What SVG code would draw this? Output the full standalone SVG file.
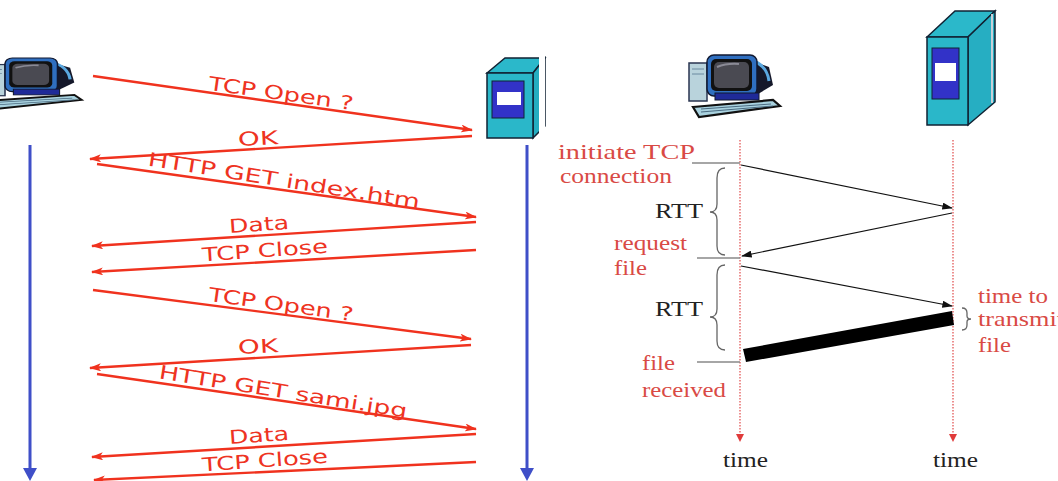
<svg xmlns="http://www.w3.org/2000/svg" width="1058" height="481" viewBox="0 0 1058 481">
  <style>
    .msg { fill: none; stroke: #f0321e; stroke-width: 2.4; marker-end: url(#redHead); }
    .lbl { font-family: "Comic Sans MS", "DejaVu Sans", sans-serif; font-size: 19px; fill: #ee3322; text-anchor: middle; }
    .life { stroke: #3f4fc8; stroke-width: 3; fill: none; }
    .note { font-family: "Liberation Serif", serif; font-size: 22px; fill: #d94a45; }
    .blk { font-family: "Liberation Serif", serif; font-size: 22px; fill: #222; }
    .tick { stroke: #888; stroke-width: 1.5; }
    .brace { fill: none; stroke: #666; stroke-width: 1.3; }
    .dot { stroke: #e04848; stroke-width: 1.2; stroke-dasharray: 1.5 1.5; }
    .thin { stroke: #111; stroke-width: 1.2; marker-end: url(#blackHead); }
  </style>
  <defs>
    <marker id="redHead" viewBox="0 0 12 8" refX="11" refY="4" markerWidth="12" markerHeight="8" markerUnits="userSpaceOnUse" orient="auto">
      <path d="M0,0 L12,4 L0,8 L3,4 Z" fill="#f0321e"/>
    </marker>
    <marker id="blackHead" viewBox="0 0 12 8" refX="11" refY="4" markerWidth="11" markerHeight="7" markerUnits="userSpaceOnUse" orient="auto">
      <path d="M0,0 L12,4 L0,8 Z" fill="#111"/>
    </marker>
    <!-- desktop computer: tower, CRT monitor and keyboard -->
    <symbol id="pc" overflow="visible">
      <rect x="2" y="8" width="18" height="38" fill="#b9d3dc" stroke="#2a3550" stroke-width="1.5"/>
      <line x1="5" y1="14" x2="17" y2="14" stroke="#6a8aa0"/>
      <line x1="5" y1="19" x2="17" y2="19" stroke="#6a8aa0"/>
      <path d="M58,3 L82,12 L86,30 L66,42 Z" fill="#15182a"/>
      <path d="M64,5 Q80,10 82,26" fill="none" stroke="#5aa8e0" stroke-width="3"/>
      <rect x="20" y="0" width="50" height="41" rx="7" fill="#2f6fc0" stroke="#101830" stroke-width="1.5"/>
      <rect x="24" y="4" width="41" height="32" rx="5" fill="#111"/>
      <rect x="27" y="7" width="35" height="26" rx="5" fill="#4a4a52"/>
      <path d="M30,12 Q40,8 52,9" fill="none" stroke="#8a8a95" stroke-width="2"/>
      <rect x="28" y="38" width="44" height="7" fill="#1f2a98" stroke="#101830"/>
      <polygon points="6,52 86,45 93,51 12,62" fill="#a9d2df" stroke="#111" stroke-width="2.2"/>
      <line x1="14" y1="54" x2="84" y2="49" stroke="#4a6a80"/>
      <line x1="14" y1="57" x2="86" y2="51" stroke="#4a6a80"/>
    </symbol>
  </defs>

  <rect width="1058" height="481" fill="#fff"/>

  <!-- left panel: hosts -->
  <g id="client-left">
    <use href="#pc" transform="translate(-16,58) scale(1.05,0.82)"/>
  </g>
  <g id="server-left">
    <polygon points="487,73 505,58 545,58 533,73" fill="#2bb8ca" stroke="#123" stroke-width="1.5"/>
    <polygon points="533,73 545,58 545,126 533,138" fill="#24adc0" stroke="#123" stroke-width="1.5"/>
    <rect x="487" y="73" width="46" height="65" fill="#2ab7c9" stroke="#123" stroke-width="1.5"/>
    <rect x="492" y="81" width="32" height="37" fill="#3232c8" stroke="#123"/>
    <rect x="497" y="92" width="24" height="13" fill="#fff"/>
  </g>
  <rect x="539" y="40" width="6" height="110" fill="#fff"/>

  <!-- right panel: hosts -->
  <g id="client-right">
    <use href="#pc" transform="translate(687,55)"/>
  </g>
  <g id="server-right">
    <polygon points="927,37 955,11 995,11 968,37" fill="#2bb8ca" stroke="#123" stroke-width="1.5"/>
    <polygon points="968,37 995,11 995,102 968,125" fill="#26aec2" stroke="#123" stroke-width="1.5"/>
    <line x1="992" y1="14" x2="992" y2="103" stroke="#c8d0d8" stroke-width="2"/>
    <rect x="927" y="37" width="41" height="88" fill="#2ab7c9" stroke="#123" stroke-width="1.5"/>
    <rect x="932" y="48" width="27" height="51" fill="#3232c8" stroke="#123"/>
    <rect x="935" y="63" width="21" height="18" fill="#fff"/>
  </g>

  <!-- connectors -->
  <g id="connectors">
    <!-- left timelines -->
    <line class="life" x1="30" y1="145" x2="30" y2="470"/>
    <polygon points="23,468 37,468 30,481" fill="#3f4fc8"/>
    <line class="life" x1="527" y1="145" x2="527" y2="470"/>
    <polygon points="520,468 534,468 527,481" fill="#3f4fc8"/>

    <!-- first exchange -->
    <line class="msg" x1="93" y1="76" x2="472" y2="130"/>
    <line class="msg" x1="472" y1="136" x2="90" y2="159"/>
    <line class="msg" x1="97" y1="164" x2="476" y2="217"/>
    <line class="msg" x1="476" y1="222" x2="92" y2="246"/>
    <line class="msg" x1="476" y1="250" x2="92" y2="272"/>
    <!-- second exchange -->
    <line class="msg" x1="93" y1="290" x2="471" y2="339"/>
    <line class="msg" x1="471" y1="345" x2="90" y2="368"/>
    <line class="msg" x1="97" y1="374" x2="476" y2="429"/>
    <line class="msg" x1="476" y1="434" x2="92" y2="457"/>
    <line class="msg" x1="476" y1="462" x2="94" y2="480"/>

    <!-- right timelines -->
    <line class="dot" x1="740" y1="140" x2="740" y2="436"/>
    <polygon points="736,434 744,434 740,442" fill="#e03a3a"/>
    <line class="dot" x1="953" y1="140" x2="953" y2="436"/>
    <polygon points="949,434 957,434 953,442" fill="#e03a3a"/>

    <!-- event ticks -->
    <line class="tick" x1="692" y1="163" x2="740" y2="163"/>
    <line class="tick" x1="697" y1="258" x2="740" y2="258"/>
    <line class="tick" x1="697" y1="362" x2="740" y2="362"/>

    <!-- packets -->
    <line class="thin" x1="741" y1="165" x2="952" y2="208"/>
    <line class="thin" x1="952" y1="213" x2="742" y2="256"/>
    <line class="thin" x1="741" y1="266" x2="952" y2="306"/>
    <polygon points="743,349 952,311 954,325 746,362" fill="#000"/>

    <!-- braces -->
    <path class="brace" d="M725,168 Q717,168 717,178 L717,204 Q717,212 710,212 Q717,212 717,220 L717,246 Q717,255 725,255"/>
    <path class="brace" d="M725,265 Q717,265 717,275 L717,309 Q717,317 710,317 Q717,317 717,325 L717,341 Q717,350 725,350"/>
    <path class="brace" d="M962,308 Q967,308 967,313 L967,316 Q967,319 971,319 Q967,319 967,322 L967,325 Q967,330 962,330"/>
  </g>

  <!-- message labels -->
  <g id="labels-left">
    <text class="lbl" transform="translate(281,94) rotate(8)" y="6" textLength="146" lengthAdjust="spacingAndGlyphs">TCP Open ?</text>
    <text class="lbl" transform="translate(258,139) rotate(-3)" y="6" textLength="40" lengthAdjust="spacingAndGlyphs">OK</text>
    <text class="lbl" transform="translate(284,181) rotate(9)" y="6" textLength="275" lengthAdjust="spacingAndGlyphs">HTTP GET index.htm</text>
    <text class="lbl" transform="translate(259,225) rotate(-4)" y="6" textLength="60" lengthAdjust="spacingAndGlyphs">Data</text>
    <text class="lbl" transform="translate(265,251) rotate(-4)" y="6" textLength="126" lengthAdjust="spacingAndGlyphs">TCP Close</text>
    <text class="lbl" transform="translate(281,305) rotate(8)" y="6" textLength="146" lengthAdjust="spacingAndGlyphs">TCP Open ?</text>
    <text class="lbl" transform="translate(258,347) rotate(-3)" y="6" textLength="40" lengthAdjust="spacingAndGlyphs">OK</text>
    <text class="lbl" transform="translate(283,392) rotate(9)" y="6" textLength="251" lengthAdjust="spacingAndGlyphs">HTTP GET sami.jpg</text>
    <text class="lbl" transform="translate(259,436) rotate(-4)" y="6" textLength="60" lengthAdjust="spacingAndGlyphs">Data</text>
    <text class="lbl" transform="translate(265,461) rotate(-4)" y="6" textLength="126" lengthAdjust="spacingAndGlyphs">TCP Close</text>
  </g>

  <g id="labels-right">
    <text class="note" x="558" y="159" textLength="137" lengthAdjust="spacingAndGlyphs">initiate TCP</text>
    <text class="note" x="560" y="183" textLength="112" lengthAdjust="spacingAndGlyphs">connection</text>
    <text class="blk" x="655" y="218" textLength="48" lengthAdjust="spacingAndGlyphs">RTT</text>
    <text class="note" x="614" y="250" textLength="73" lengthAdjust="spacingAndGlyphs">request</text>
    <text class="note" x="614" y="275" textLength="33" lengthAdjust="spacingAndGlyphs">file</text>
    <text class="blk" x="655" y="316" textLength="48" lengthAdjust="spacingAndGlyphs">RTT</text>
    <text class="note" x="978" y="303" textLength="70" lengthAdjust="spacingAndGlyphs">time to</text>
    <text class="note" x="978" y="326" textLength="86" lengthAdjust="spacingAndGlyphs">transmit</text>
    <text class="note" x="978" y="352" textLength="33" lengthAdjust="spacingAndGlyphs">file</text>
    <text class="note" x="642" y="370" textLength="33" lengthAdjust="spacingAndGlyphs">file</text>
    <text class="note" x="642" y="397" textLength="84" lengthAdjust="spacingAndGlyphs">received</text>
    <text class="blk" x="723" y="467" textLength="45" lengthAdjust="spacingAndGlyphs">time</text>
    <text class="blk" x="933" y="467" textLength="45" lengthAdjust="spacingAndGlyphs">time</text>
  </g>
</svg>
